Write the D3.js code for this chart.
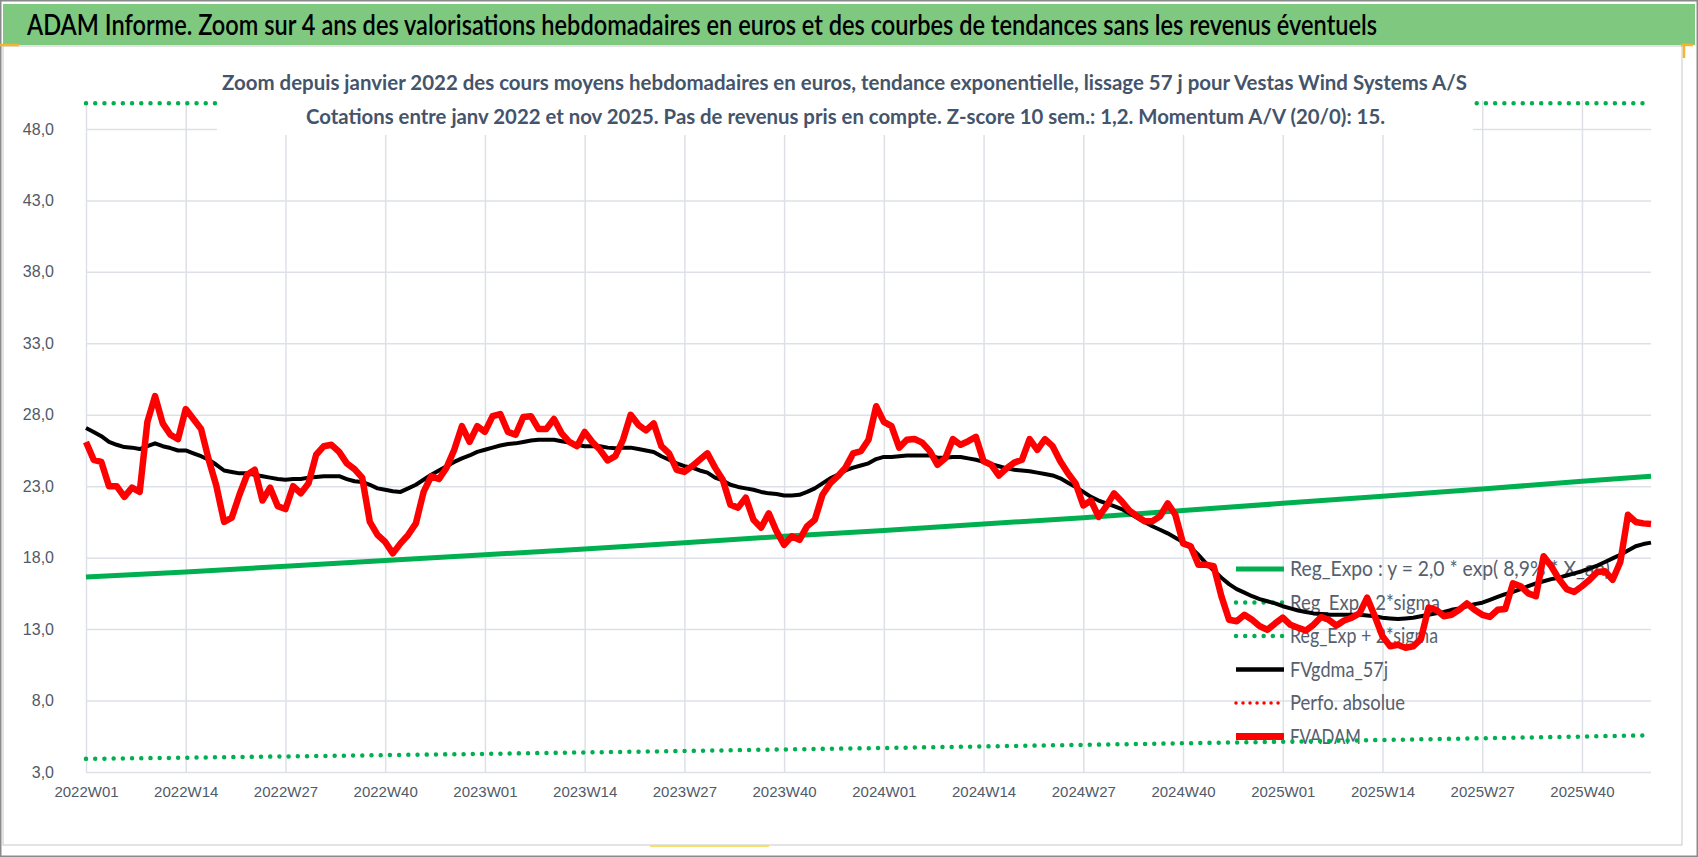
<!DOCTYPE html>
<html>
<head>
<meta charset="utf-8">
<script src="https://cdn.jsdelivr.net/npm/d3@7"></script>
<style>
body { margin: 0; background: #fff; }
svg { display: block; font-family: "Liberation Sans", Arial, sans-serif; }
.lato { font-family: Lato, "Liberation Sans", sans-serif; }
</style>
</head>
<body>
<svg width="1698" height="857"></svg>
<script>
// weekly categories 2022W01 .. 2025W49
let weeks = []
;[[2022, 52], [2023, 52], [2024, 52], [2025, 49]].forEach(([yr, n]) => {
    for (let w = 1; w <= n; w++) weeks.push(yr + 'W' + String(w).padStart(2, '0'))
})

let tickLabels = ['2022W01','2022W14','2022W27','2022W40','2023W01','2023W14','2023W27','2023W40',
    '2024W01','2024W14','2024W27','2024W40','2025W01','2025W14','2025W27','2025W40']
let yTicks = [3, 8, 13, 18, 23, 28, 33, 38, 43, 48]

// FVADAM, cours moyens hebdo
let fvadam = [
    26.1,24.85,24.7,23.0,23.0,22.25,22.9,22.6,27.5,29.3,27.4,26.6,26.3,28.4,27.7,27.0,24.85,23.0,20.5,20.8,
    22.4,23.8,24.15,22.0,22.9,21.6,21.4,23.0,22.5,23.2,25.2,25.8,25.9,25.4,24.6,24.2,23.6,20.5,19.6,19.1,
    18.3,19.0,19.6,20.4,22.6,23.7,23.5,24.3,25.55,27.2,26.1,27.2,26.8,27.9,28.05,26.8,26.6,27.85,27.9,27.0,
    27.0,27.7,26.7,26.1,25.8,26.8,26.1,25.55,24.8,25.1,26.25,28.0,27.3,26.9,27.4,25.8,25.3,24.15,24.0,24.4,
    24.85,25.3,24.3,23.45,21.7,21.5,22.2,20.65,20.1,21.1,19.85,18.9,19.5,19.25,20.2,20.65,22.4,23.2,23.7,24.3,
    25.3,25.45,26.25,28.6,27.5,27.2,25.7,26.25,26.3,26.05,25.45,24.5,24.95,26.3,25.9,26.15,26.45,24.75,24.5,23.75,
    24.25,24.65,24.85,26.3,25.55,26.3,25.8,24.75,23.9,23.2,21.65,22.0,20.85,21.6,22.5,21.95,21.3,20.9,20.55,20.55,
    20.9,21.8,21.0,19.0,18.8,17.5,17.5,17.4,15.3,13.65,13.55,14.0,13.65,13.2,12.95,13.4,13.8,13.3,13.1,12.9,
    13.3,13.85,13.65,13.25,13.6,13.8,14.1,15.2,13.9,12.5,11.8,11.9,11.7,11.8,12.3,14.5,14.35,13.9,14.0,14.35,
    14.8,14.35,14.0,13.85,14.35,14.4,16.2,16.0,15.5,15.3,18.1,17.4,16.5,15.8,15.6,16.0,16.45,17.0,17.05,16.45,
    17.7,21.0,20.5,20.4,20.35
]

// FVgdma_57j, lissage 57 j
let fvgdma57 = [
    27.07,26.8,26.5,26.1,25.9,25.74,25.7,25.6,25.8,26.0,25.8,25.67,25.5,25.5,25.3,25.1,24.85,24.5,24.1,24.0,
    23.9,23.9,23.8,23.7,23.6,23.5,23.45,23.5,23.5,23.6,23.65,23.7,23.7,23.7,23.5,23.35,23.3,23.1,22.85,22.75,
    22.65,22.6,22.85,23.1,23.45,23.8,24.1,24.4,24.7,24.95,25.15,25.4,25.55,25.7,25.85,25.95,26.0,26.1,26.2,26.25,
    26.25,26.25,26.15,26.05,25.9,25.8,25.8,25.8,25.7,25.65,25.7,25.7,25.6,25.5,25.4,25.1,24.85,24.6,24.4,24.3,
    24.1,23.95,23.6,23.4,23.1,22.95,22.85,22.75,22.6,22.5,22.45,22.35,22.35,22.4,22.6,22.85,23.2,23.55,23.8,24.1,
    24.3,24.45,24.6,24.9,25.05,25.05,25.1,25.15,25.15,25.15,25.15,25.0,25.0,25.05,25.05,24.95,24.85,24.7,24.55,24.4,
    24.25,24.15,24.1,24.05,23.95,23.85,23.75,23.55,23.25,22.95,22.6,22.25,22.0,21.8,21.6,21.4,21.1,20.8,20.5,20.2,
    19.95,19.7,19.4,19.1,18.7,18.2,17.6,17.1,16.6,16.15,15.8,15.55,15.3,15.1,14.95,14.8,14.6,14.45,14.3,14.2,
    14.1,14.05,14.0,14.0,14.0,14.0,14.0,13.95,13.9,13.8,13.75,13.7,13.75,13.8,13.9,14.0,14.1,14.2,14.35,14.45,
    14.6,14.75,14.85,15.05,15.25,15.45,15.6,15.8,16.0,16.2,16.35,16.5,16.6,16.75,16.9,17.05,17.25,17.45,17.7,17.95,
    18.2,18.5,18.8,18.95,19.05
]

// regression lines, read at the tick weeks and the last week
let regWeeks = tickLabels.concat(['2025W49'])
let regExpo = [16.65,17.0,17.4,17.8,18.2,18.6,19.05,19.5,19.9,20.35,20.8,21.3,21.8,22.3,22.8,23.35,23.7]
let regLow = [3.92,4.0,4.09,4.18,4.27,4.37,4.47,4.58,4.68,4.79,4.9,5.01,5.12,5.24,5.36,5.48,5.57]
let regHigh = [49.8,49.8,49.8,49.8,49.8,49.8,49.8,49.8,49.8,49.8,49.8,49.8,49.8,49.8,49.8,49.8,49.8]

let svg = d3.select('svg')
let plotL = 86, plotR = 1651, plotT = 100.4, plotB = 772
let textCol = '#4f5a69'

let x = d3.scalePoint()
    .domain(weeks)
    .range([plotL, plotR])

let y = d3.scaleLinear()
    .domain([3, 50])
    .range([plotB, plotT])

// frames
svg.append('rect').attr('x', 0.75).attr('y', 0.75).attr('width', 1696.5).attr('height', 855.5)
    .attr('fill', '#fff').attr('stroke', '#8a8a8a').attr('stroke-width', 1.5)
svg.append('rect').attr('x', 3).attr('y', 46).attr('width', 1679).attr('height', 799)
    .attr('fill', 'none').attr('stroke', '#c8c8c8').attr('stroke-width', 1)

// title bar
svg.append('rect').attr('x', 3).attr('y', 4).attr('width', 1692).attr('height', 41).attr('fill', '#7ec87f')
svg.append('text')
    .attr('class', 'lato')
    .attr('x', 27).attr('y', 35)
    .attr('font-size', 28.5)
    .attr('font-weight', 600)
    .attr('fill', '#000')
    .attr('textLength', 1350)
    .attr('lengthAdjust', 'spacingAndGlyphs')
    .text('ADAM Informe. Zoom sur 4 ans des valorisations hebdomadaires en euros et des courbes de tendances sans les revenus éventuels')

// selection marks
svg.append('line').attr('x1', 0).attr('x2', 19).attr('y1', 45).attr('y2', 45).attr('stroke', '#f2b630').attr('stroke-width', 2.5)
svg.append('path').attr('d', 'M1681,45 H1693 M1684,45 V58').attr('stroke', '#f2b630').attr('stroke-width', 2.5).attr('fill', 'none')
svg.append('line').attr('x1', 650).attr('x2', 769).attr('y1', 846).attr('y2', 846).attr('stroke', '#f5dd70').attr('stroke-width', 2)

// axes + gridlines
let yAxis = svg.append('g')
    .attr('transform', `translate(${plotL},0)`)
    .call(d3.axisLeft(y).tickValues(yTicks)
        .tickFormat(d => d.toFixed(1).replace('.', ','))
        .tickSizeInner(-(plotR - plotL)).tickSizeOuter(0).tickPadding(32))
yAxis.select('.domain').remove()
yAxis.selectAll('line').attr('stroke', '#dde1e7').attr('stroke-width', 1.5)
yAxis.selectAll('text').attr('fill', textCol).attr('font-size', 16)

let xAxis = svg.append('g')
    .attr('transform', `translate(0,${plotB})`)
    .call(d3.axisBottom(x).tickValues(tickLabels)
        .tickSizeInner(-(plotB - plotT)).tickSizeOuter(0).tickPadding(14))
xAxis.select('.domain').remove()
xAxis.selectAll('line').attr('stroke', '#dde1e7').attr('stroke-width', 1.5)
xAxis.selectAll('text').attr('fill', textCol).attr('font-size', 15)

svg.append('clipPath').attr('id', 'plot')
    .append('rect').attr('x', plotL - 4).attr('y', plotT - 4).attr('width', plotR - plotL + 8).attr('height', plotB - plotT + 8)

// legend (under the series)
let legendItems = [
    {label: 'Reg_Expo : y = 2,0 * exp( 8,9% * X_an)', len: 320, color: '#00b050', w: 5, dash: null},
    {label: 'Reg_Exp - 2*sigma', len: 150, color: '#00b050', w: 4.5, dash: '0.01 9.2'},
    {label: 'Reg_Exp + 2*sigma', len: 148, color: '#00b050', w: 4.5, dash: '0.01 9.2'},
    {label: 'FVgdma_57j', len: 98, color: '#000', w: 4.5, dash: null},
    {label: 'Perfo. absolue', len: 115, color: '#ff0000', w: 3.5, dash: '0.01 7'},
    {label: 'FVADAM', len: 71, color: '#ff0000', w: 7, dash: null}
]
let legend = svg.selectAll('.leg')
    .data(legendItems)
    .enter().append('g')
    .attr('class', 'leg')
    .attr('transform', (d, i) => `translate(1236,${569 + i * 33.5})`)
legend.append('line')
    .attr('x1', 0).attr('x2', 48)
    .attr('stroke', d => d.color)
    .attr('stroke-width', d => d.w)
    .attr('stroke-dasharray', d => d.dash)
    .attr('stroke-linecap', d => d.dash ? 'round' : 'butt')
legend.append('text')
    .attr('class', 'lato')
    .attr('x', 54).attr('dy', '0.36em')
    .attr('font-size', 20.5)
    .attr('fill', '#56606e')
    .attr('textLength', d => d.len)
    .attr('lengthAdjust', 'spacingAndGlyphs')
    .text(d => d.label)

// series
let plot = svg.append('g').attr('clip-path', 'url(#plot)')
let regLine = arr => d3.line().x(d => x(d)).y((d, i) => y(arr[i]))(regWeeks)
let seriesLine = d3.line().x((d, i) => x(weeks[i])).y(d => y(d))

plot.append('path').attr('d', regLine(regHigh))
    .attr('fill', 'none').attr('stroke', '#00b050').attr('stroke-width', 4.5)
    .attr('stroke-dasharray', '0.01 9.2').attr('stroke-linecap', 'round')
plot.append('path').attr('d', regLine(regLow))
    .attr('fill', 'none').attr('stroke', '#00b050').attr('stroke-width', 4.5)
    .attr('stroke-dasharray', '0.01 9.2').attr('stroke-linecap', 'round')
plot.append('path').attr('d', regLine(regExpo))
    .attr('fill', 'none').attr('stroke', '#00b050').attr('stroke-width', 5)
plot.append('path').attr('d', seriesLine(fvgdma57))
    .attr('fill', 'none').attr('stroke', '#000').attr('stroke-width', 4)
    .attr('stroke-linejoin', 'round')
plot.append('path').attr('d', seriesLine(fvadam))
    .attr('fill', 'none').attr('stroke', '#ff0000').attr('stroke-width', 6.5)
    .attr('stroke-linejoin', 'round')

// subtitle box over the top of the plot
svg.append('rect').attr('x', 217).attr('y', 60).attr('width', 1256).attr('height', 75).attr('fill', '#fff')
let subs = [
    {t: 'Zoom depuis janvier 2022 des cours moyens hebdomadaires en euros, tendance exponentielle, lissage 57 j pour Vestas Wind Systems A/S', x: 222, y: 90, len: 1245},
    {t: 'Cotations entre janv 2022 et nov 2025. Pas de revenus pris en compte. Z-score 10 sem.: 1,2. Momentum A/V (20/0): 15.', x: 306, y: 124, len: 1079}
]
svg.selectAll('.sub')
    .data(subs)
    .enter().append('text')
    .attr('class', 'sub lato')
    .attr('x', d => d.x).attr('y', d => d.y)
    .attr('font-size', 21).attr('font-weight', 'bold')
    .attr('fill', '#44546a')
    .attr('textLength', d => d.len)
    .attr('lengthAdjust', 'spacingAndGlyphs')
    .text(d => d.t)
</script>
</body>
</html>
